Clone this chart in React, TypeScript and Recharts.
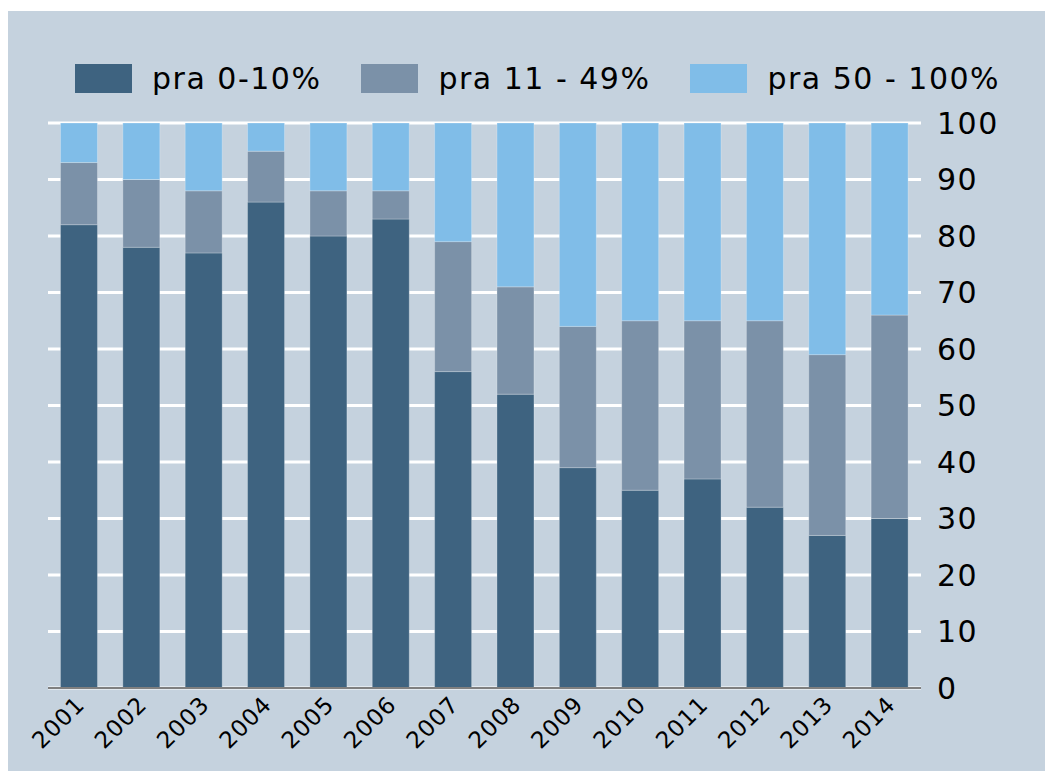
import { BarChart, Bar, XAxis, YAxis, CartesianGrid } from 'recharts'

const years = ['2001', '2002', '2003', '2004', '2005', '2006', '2007', '2008', '2009', '2010', '2011', '2012', '2013', '2014']
const low = [82, 78, 77, 86, 80, 83, 56, 52, 39, 35, 37, 32, 27, 30]
const mid = [11, 12, 11, 9, 8, 5, 23, 19, 25, 30, 28, 33, 32, 36]
const high = [7, 10, 12, 5, 12, 12, 21, 29, 36, 35, 35, 35, 41, 34]
const yTicks = [0, 10, 20, 30, 40, 50, 60, 70, 80, 90, 100]

const series = [
  { key: 'low', name: 'pra 0-10%', color: '#3e6380' },
  { key: 'mid', name: 'pra 11 - 49%', color: '#7b91a8' },
  { key: 'high', name: 'pra 50 - 100%', color: '#80bde8' },
]

const data = years.map((year, i) => ({ year, low: low[i], mid: mid[i], high: high[i] }))

const FONT = '"DejaVu Sans", Verdana, sans-serif'

function YearTick({ x, y, payload }: any) {
  const ax = x - 5
  const ay = y - 2
  return (
    <text
      x={ax}
      y={ay}
      transform={`rotate(-45, ${ax}, ${ay})`}
      textAnchor="end"
      dominantBaseline="hanging"
      fontSize={23}
      letterSpacing={1}
      fontFamily={FONT}
      fill="#000"
    >
      {payload.value}
    </text>
  )
}

export default function App() {
  return (
    <>
      <style>{'body{margin:0}'}</style>
      <div style={{ position: 'absolute', left: 8, top: 11, width: 1037, height: 760, background: '#c5d2de' }}>
        <div
          style={{
            position: 'absolute',
            left: 67,
            top: 50,
            display: 'flex',
            alignItems: 'center',
            fontFamily: FONT,
            fontSize: 30,
            letterSpacing: 1.5,
            color: '#000',
          }}
        >
          {series.map((s) => (
            <div key={s.key} style={{ display: 'flex', alignItems: 'center', marginRight: 40 }}>
              <div style={{ width: 57, height: 29, background: s.color, marginRight: 20 }} />
              <span>{s.name}</span>
            </div>
          ))}
        </div>
        <BarChart
          width={1037}
          height={760}
          data={data}
          barCategoryGap="20%"
          margin={{ top: 112, right: 16, left: 40, bottom: 23 }}
        >
          <CartesianGrid horizontal vertical={false} stroke="#ffffff" strokeWidth={3} />
          <XAxis
            dataKey="year"
            height={60}
            tickLine={false}
            axisLine={{ stroke: '#7f7f7f', strokeWidth: 2 }}
            tick={<YearTick />}
            interval={0}
          />
          <YAxis
            orientation="right"
            domain={[0, 100]}
            ticks={yTicks}
            width={108}
            tickLine={false}
            axisLine={false}
            tickMargin={10}
            tick={{ fontSize: 30, letterSpacing: 1.5, fill: '#000', fontFamily: FONT, textAnchor: 'start' }}
          />
          {series.map((s) => (
            <Bar
              key={s.key}
              dataKey={s.key}
              name={s.name}
              stackId="a"
              fill={s.color}
              stroke="rgba(255,255,255,0.25)"
              strokeWidth={1}
              isAnimationActive={false}
            />
          ))}
        </BarChart>
      </div>
    </>
  )
}
